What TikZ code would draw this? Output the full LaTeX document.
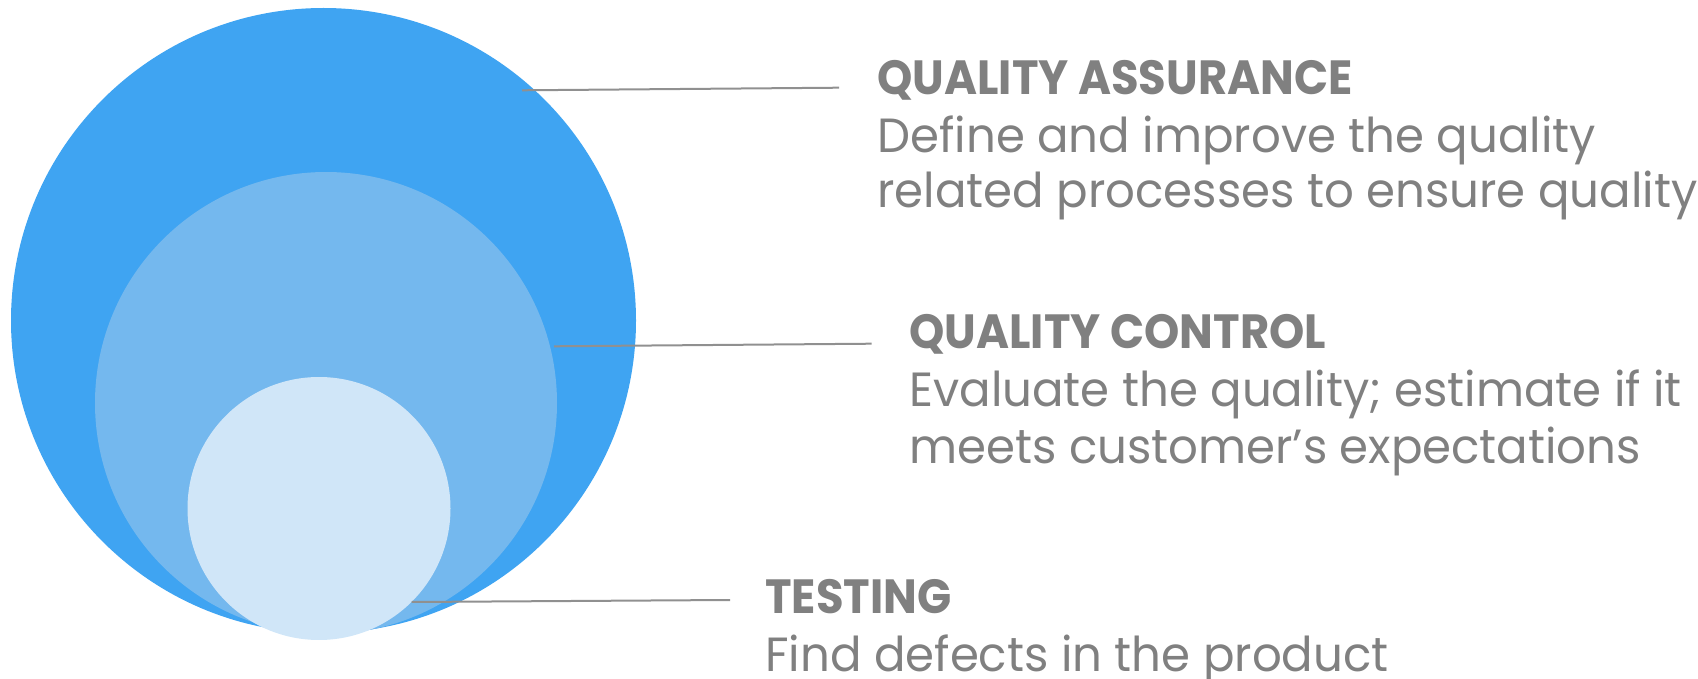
\documentclass[tikz,border=0pt]{standalone}
\usepackage{fontspec}
\setmainfont{Poppins}
\newfontfamily\titlefont[FakeStretch=0.935]{Poppins}
\newfontfamily\bodyfont[FakeStretch=0.972]{Poppins}
\definecolor{bigblue}{HTML}{3FA4F2}
\definecolor{midblue}{HTML}{74B8EE}
\definecolor{lightblue}{HTML}{D0E6F8}
\definecolor{linegray}{HTML}{909090}
\definecolor{textgray}{HTML}{808080}
\tikzset{
  ring/.style={circle, draw=none, inner sep=0pt},
  leader/.style={draw=linegray, line width=1pt},
  title/.style={anchor=base west, inner sep=0pt, text=textgray, font=\titlefont\fontsize{24}{24}\selectfont\bfseries},
  body/.style={anchor=base west, inner sep=0pt, text=textgray, font=\bodyfont\fontsize{24}{24}\selectfont},
}
\begin{document}
\begin{tikzpicture}[x=0.5pt,y=-0.5pt]
\useasboundingbox (0,0) rectangle (1698,679);
\node[ring, fill=bigblue, minimum size=625pt*0.5] (qa) at (323.5,320.5) {};
\node[ring, fill=midblue, minimum size=462pt*0.5] (qc) at (326,403) {};
\node[ring, fill=lightblue, minimum size=263pt*0.5] (ts) at (319,508.5) {};
% leader ends
\coordinate (qaS) at (522,90.3);
\coordinate (qaE) at (839,87.7);
\coordinate (qcS) at (554,346.3);
\coordinate (qcE) at (871.7,343.7);
\coordinate (tsS) at (411.7,602);
\coordinate (tsE) at (730,600);
\draw[leader] (qaS) -- (qaE);
\draw[leader] (qcS) -- (qcE);
\draw[leader] (tsS) -- (tsE);
% texts
\node[title] (qat) at (877,95) {QUALITY ASSURANCE};
\node[body] (qab1) at (877,153) {Define and improve the quality};
\node[body] (qab2) at (877,208) {related processes to ensure quality};
\node[title] (qct) at (909,349) {QUALITY CONTROL};
\node[body] (qcb1) at (909,407) {Evaluate the quality; estimate if it};
\node[body] (qcb2) at (909,463) {meets customer’s expectations};
\node[title] (tst) at (765,613) {TESTING};
\node[body] (tsb) at (765,671) {Find defects in the product};
\end{tikzpicture}
\end{document}
